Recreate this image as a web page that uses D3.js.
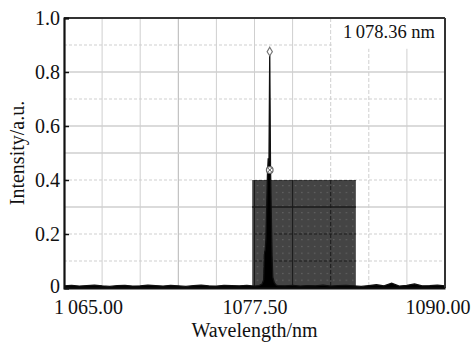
<!DOCTYPE html>
<html lang="en">
<head>
<meta charset="UTF-8">
<title>Spectrum</title>
<script src="https://d3js.org/d3.v7.min.js"></script>
<style>
    body { margin: 0; background: #fff; }
    svg text { font-family: "Liberation Serif", Tinos, "Times New Roman", Times, "DejaVu Serif", serif !important; fill: #111; }
</style>
</head>
<body>
<div id="chart"></div>
<script>
    // tick labels
    const xTicks = [1065, 1077.5, 1090];
    const xTickLabels = ["1\u2009065.00", "1077.50", "1090.00"];
    const yTicks = [0, 0.2, 0.4, 0.6, 0.8, 1.0];
    const yTickLabels = ["0", "0.2", "0.4", "0.6", "0.8", "1.0"];

    // grid
    const xGrid = [1067.5, 1070, 1072.5, 1075, 1077.5, 1080, 1082.5, 1085, 1087.5];
    const xGridDashed = [1082.5, 1085];
    const yGrid = [0.1, 0.2, 0.3, 0.4, 0.5, 0.6, 0.7, 0.8, 0.9];
    const yGridDashed = [0.1, 0.2, 0.4, 0.7, 0.9];

    // shaded band [start, end] and its level
    const bandRange = [1077.35, 1084.15];
    const bandLevel = 0.4;

    // spectrum
    const wavelength = [
        1065.0, 1065.5, 1066.0, 1066.5, 1067.0, 1067.5, 1068.0, 1068.5, 1069.0, 1069.5,
        1070.0, 1070.5, 1071.0, 1071.5, 1072.0, 1072.5, 1073.0, 1073.5, 1074.0, 1074.5,
        1075.0, 1075.5, 1076.0, 1076.5, 1077.0, 1077.5,
        1077.8, 1078.0, 1078.1, 1078.15, 1078.2, 1078.25, 1078.3, 1078.35, 1078.4, 1078.45,
        1078.5, 1078.55, 1078.6, 1078.65, 1078.7, 1078.8, 1078.9, 1079.0,
        1079.5, 1080.0, 1080.5, 1081.0, 1081.5, 1082.0, 1082.5, 1083.0, 1083.5, 1084.0,
        1084.5, 1085.0, 1085.5, 1086.0, 1086.5, 1087.0, 1087.5, 1088.0, 1088.5, 1089.0,
        1089.5, 1090.0
    ];
    const intensity = [
        0.008, 0.010, 0.007, 0.009, 0.011, 0.008, 0.006, 0.009, 0.010, 0.007,
        0.008, 0.011, 0.009, 0.007, 0.010, 0.008, 0.006, 0.009, 0.011, 0.008,
        0.007, 0.010, 0.009, 0.008, 0.010, 0.007,
        0.009, 0.015, 0.030, 0.130, 0.140, 0.180, 0.300, 0.420, 0.480, 0.470,
        0.875, 0.450, 0.280, 0.120, 0.040, 0.020, 0.012, 0.009,
        0.008, 0.010, 0.007, 0.009, 0.008, 0.011, 0.007, 0.009, 0.010, 0.008,
        0.006, 0.009, 0.012, 0.008, 0.018, 0.007, 0.010, 0.015, 0.008, 0.009,
        0.011, 0.008
    ];

    // markers on the peak
    const peakMarker = [1078.5, 0.875];
    const midMarker = [1078.5, 0.437];
    const peakLabel = "1\u2009078.36 nm";

    const width = 471, height = 343;
    const margin = {top: 18, right: 26, bottom: 55, left: 64};
    const svg = d3.select("#chart").append("svg").attr("width", width).attr("height", height);

    const x = d3.scaleLinear().domain([1065, 1090]).range([margin.left, width - margin.right]);
    const y = d3.scaleLinear().domain([0, 1]).range([height - margin.bottom, margin.top]);

    const defs = svg.append("defs");
    const pat = defs.append("pattern").attr("id", "dots").attr("patternUnits", "userSpaceOnUse")
        .attr("width", 6.35).attr("height", 6.75);
    pat.append("rect").attr("width", 6.35).attr("height", 6.75).attr("fill", "#444");
    pat.append("rect").attr("x", 3).attr("y", 3).attr("width", 1).attr("height", 1).attr("fill", "#777");
    defs.append("clipPath").attr("id", "bandclip").append("rect")
        .attr("x", x(bandRange[0])).attr("y", y(bandLevel))
        .attr("width", x(bandRange[1]) - x(bandRange[0])).attr("height", y(0) - y(bandLevel));

    function drawGrid(g, light) {
        g.selectAll(".gx").data(xGrid).enter().append("line")
            .attr("x1", d => x(d)).attr("x2", d => x(d))
            .attr("y1", y(1)).attr("y2", y(0))
            .attr("stroke", d => light ? (d === 1072.5 ? "#b4b4b4" : "#cfcfcf") : "#1a1a1a")
            .attr("stroke-width", 1)
            .attr("stroke-dasharray", d => xGridDashed.includes(d) ? "4,2" : null);
        g.selectAll(".gy").data(yGrid).enter().append("line")
            .attr("x1", x(1065)).attr("x2", x(1090))
            .attr("y1", d => y(d)).attr("y2", d => y(d))
            .attr("stroke", light ? "#cfcfcf" : "#1a1a1a")
            .attr("stroke-width", d => yGridDashed.includes(d) ? 1 : 1.3)
            .attr("stroke-dasharray", d => yGridDashed.includes(d) ? "3,2" : null);
    }
    drawGrid(svg.append("g"), true);

    // label box over the top-right grid
    svg.append("rect")
        .attr("x", x(1082.5) + 1).attr("y", y(1))
        .attr("width", x(1090) - x(1082.5) - 1).attr("height", y(0.886) - y(1))
        .attr("fill", "#fff");
    svg.append("text")
        .attr("x", x(1090) - 10).attr("y", y(1) + 20)
        .attr("text-anchor", "end").attr("font-size", 18.5)
        .text(peakLabel);

    // band
    svg.append("rect")
        .attr("x", x(bandRange[0])).attr("y", y(bandLevel))
        .attr("width", x(bandRange[1]) - x(bandRange[0])).attr("height", y(0) - y(bandLevel))
        .attr("fill", "url(#dots)");
    drawGrid(svg.append("g").attr("clip-path", "url(#bandclip)"), false);

    // spectrum
    const pts = wavelength.map((w, i) => [w, intensity[i]]);
    svg.append("path").datum(pts)
        .attr("d", d3.area().x(d => x(d[0])).y0(y(0)).y1(d => y(d[1])))
        .attr("fill", "#000");
    svg.append("path").datum(pts)
        .attr("d", d3.line().x(d => x(d[0])).y(d => y(d[1])))
        .attr("fill", "none").attr("stroke", "#111").attr("stroke-width", 1.3);

    // markers
    const px = x(peakMarker[0]), py = y(peakMarker[1]);
    svg.append("path")
        .attr("d", `M${px},${py - 4.5}L${px + 2.6},${py}L${px},${py + 4}L${px - 2.6},${py}Z`)
        .attr("fill", "#fff").attr("stroke", "#777").attr("stroke-width", 1.2);
    const mx = x(midMarker[0]), my = y(midMarker[1]);
    svg.append("circle").attr("cx", mx).attr("cy", my).attr("r", 3.3)
        .attr("fill", "#fff").attr("stroke", "#666").attr("stroke-width", 1.2);
    svg.append("path")
        .attr("d", `M${mx - 2},${my - 2}L${mx + 2},${my + 2}M${mx + 2},${my - 2}L${mx - 2},${my + 2}`)
        .attr("stroke", "#555").attr("stroke-width", 1);

    // frame
    svg.append("line").attr("x1", x(1065)).attr("x2", x(1090)).attr("y1", y(1)).attr("y2", y(1))
        .attr("stroke", "#333").attr("stroke-width", 2);
    svg.append("line").attr("x1", x(1090)).attr("x2", x(1090)).attr("y1", y(1)).attr("y2", y(0))
        .attr("stroke", "#333").attr("stroke-width", 2);

    // axes
    const xAxis = svg.append("g").attr("transform", `translate(0,${y(0)})`)
        .call(d3.axisBottom(x).tickValues(xTicks).tickSize(0).tickPadding(12)
            .tickFormat((d, i) => xTickLabels[i]));
    xAxis.attr("font-family", null);
    xAxis.select(".domain").attr("stroke", "#111").attr("stroke-width", 2.2);
    xAxis.selectAll("text").attr("font-size", 20).attr("fill", "#111")
        .attr("dx", (d, i) => i === 0 ? 24 : (i === 2 ? -7.5 : 0));

    const yAxis = svg.append("g").attr("transform", `translate(${x(1065)},0)`)
        .call(d3.axisLeft(y).tickValues(yTicks).tickSize(-5).tickPadding(4)
            .tickFormat((d, i) => yTickLabels[i]));
    yAxis.attr("font-family", null);
    yAxis.select(".domain").attr("stroke", "#111").attr("stroke-width", 2.2);
    yAxis.selectAll(".tick line").attr("stroke", "#111").attr("stroke-width", 1.5);
    yAxis.selectAll("text").attr("font-size", 20).attr("fill", "#111")
        .attr("dy", d => d === 0 ? "0.22em" : "0.32em");

    // titles
    svg.append("text")
        .attr("x", x(1077.5)).attr("y", 337)
        .attr("text-anchor", "middle").attr("font-size", 20)
        .text("Wavelength/nm");
    svg.append("text")
        .attr("transform", `translate(24,${(y(0) + y(1)) / 2}) rotate(-90)`)
        .attr("text-anchor", "middle").attr("font-size", 20)
        .text("Intensity/a.u.");
</script>
</body>
</html>
